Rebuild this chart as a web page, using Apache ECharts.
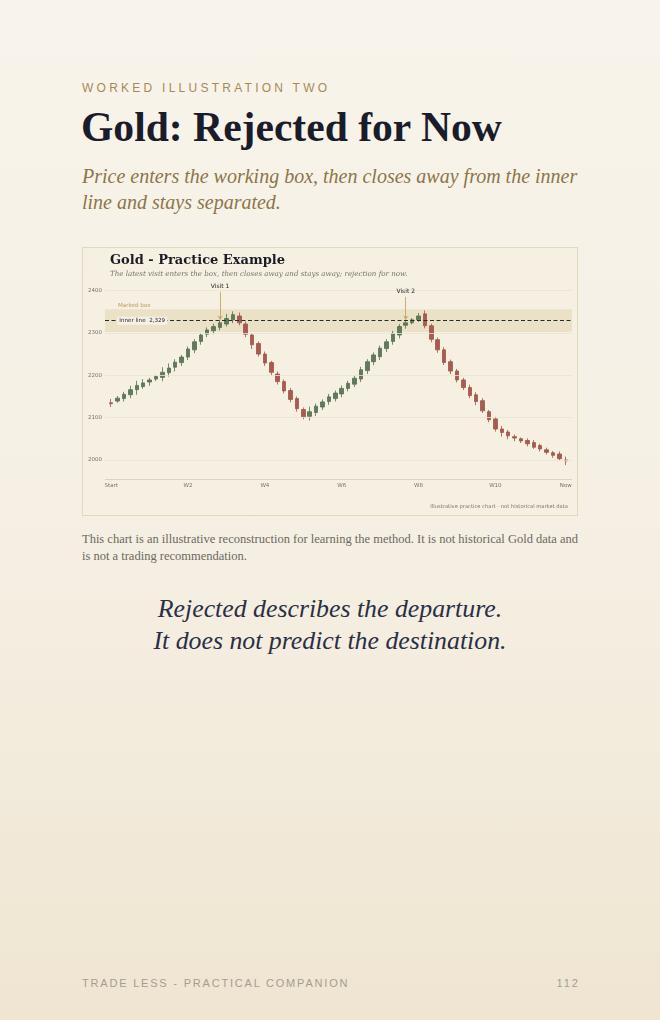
<!DOCTYPE html>
<html>
<head>
<meta charset="utf-8">
<script src="https://cdn.jsdelivr.net/npm/echarts@6/dist/echarts.min.js"></script>
<style>
  html, body { margin: 0; padding: 0; }
  body {
    width: 660px; height: 1020px; position: relative; overflow: hidden;
    background: linear-gradient(180deg, #f8f4eb 0%, #f5efe3 55%, #efe5d1 100%);
  }
  .kicker { position: absolute; left: 82px; top: 81px; font-family: "Liberation Sans", Arial, sans-serif;
    font-size: 12px; letter-spacing: 3.25px; color: #a58a55; white-space: nowrap; }
  .title { position: absolute; left: 81px; top: 101px; font-family: "Liberation Serif", "Times New Roman", serif;
    font-weight: bold; font-size: 41.6px; color: #1b1c2b; white-space: nowrap; line-height: 52px; }
  .sub { position: absolute; left: 82px; top: 163px; width: 500px; font-family: "Liberation Serif", serif;
    font-style: italic; font-size: 20px; line-height: 26px; color: #8c7548; }
  .panel { position: absolute; left: 82px; top: 247px; width: 496px; height: 269px; box-sizing: border-box;
    border: 1px solid #e2d8c2; background: #f6f0e3; }
  #chart { width: 494px; height: 267px; }
  .caption { position: absolute; left: 82px; top: 531px; width: 498px; font-family: "Liberation Serif", serif;
    font-size: 12.5px; line-height: 17px; color: #6c6761; }
  .quote { position: absolute; left: 0; width: 660px; top: 593px; text-align: center; font-family: "Liberation Serif", serif;
    font-style: italic; font-size: 25.8px; line-height: 32px; color: #2a2f45; }
  .foot { position: absolute; top: 977px; font-family: "Liberation Sans", Arial, sans-serif; font-size: 11px;
    letter-spacing: 1.8px; color: #a39d92; white-space: nowrap; }
</style>
</head>
<body>
<div class="kicker">WORKED ILLUSTRATION TWO</div>
<div class="title">Gold: Rejected for Now</div>
<div class="sub">Price enters the working box, then closes away from the inner line and stays separated.</div>
<div class="panel"><div id="chart"></div></div>
<div class="caption">This chart is an illustrative reconstruction for learning the method. It is not historical Gold data and is not a trading recommendation.</div>
<div class="quote">Rejected describes the departure.<br>It does not predict the destination.</div>
<div class="foot" style="left:82px;">TRADE LESS - PRACTICAL COMPANION</div>
<div class="foot" style="right:80px;letter-spacing:2px;">112</div>
<script>
// ---- data ----
const opens  = [2135,2139,2145,2154,2166,2173,2184,2191,2195,2206,2219,2230,2243,2260,2280,2297,2305,2313,2321,2331,
                2340,2321,2295,2275,2250,2230,2203,2185,2164,2145,2119,2103,2112,2125,2138,2145,2156,2169,2179,2191,
                2211,2232,2244,2263,2280,2295,2318,2324,2331,2345,2317,2284,2260,2232,2210,2189,2171,2154,2140,2114,
                2097,2073,2066,2055,2050,2046,2041,2034,2024,2017,2014,2000];
const closes = [2133,2146,2155,2166,2176,2182,2189,2197,2207,2217,2231,2243,2262,2279,2295,2307,2315,2324,2334,2343,
                2324,2297,2272,2250,2229,2207,2185,2163,2143,2121,2102,2114,2127,2137,2149,2158,2169,2181,2193,2213,
                2232,2248,2264,2279,2299,2315,2324,2331,2340,2317,2285,2260,2230,2210,2189,2171,2152,2138,2116,2095,
                2073,2065,2057,2052,2045,2038,2030,2026,2018,2011,2003,1998];
const lows   = [2125,2135,2138,2146,2154,2168,2175,2186,2186,2197,2209,2222,2236,2252,2272,2290,2297,2306,2315,2323,
                2318,2290,2262,2244,2222,2200,2178,2157,2136,2114,2096,2093,2104,2118,2130,2138,2148,2162,2172,2184,
                2203,2224,2236,2255,2272,2287,2310,2320,2326,2311,2278,2253,2224,2203,2183,2165,2146,2129,2111,2089,
                2067,2055,2049,2044,2040,2032,2026,2020,2013,2005,1999,1988];
const highs  = [2144,2151,2161,2175,2187,2191,2194,2201,2219,2228,2238,2248,2268,2285,2300,2313,2322,2330,2345,2351,
                2348,2327,2299,2280,2256,2234,2209,2190,2170,2150,2124,2126,2133,2143,2156,2164,2176,2187,2199,2220,
                2238,2254,2270,2285,2305,2321,2330,2335,2347,2353,2322,2289,2266,2237,2215,2194,2178,2160,2146,2118,
                2102,2080,2071,2060,2053,2051,2047,2038,2029,2021,2020,2008];
const tickIndex = [0, 12, 24, 36, 48, 60, 71];
const tickText  = ['Start', 'W2', 'W4', 'W6', 'W8', 'W10', 'Now'];
const yTicks    = [2000, 2100, 2200, 2300, 2400];
const yMin = 1955, yMax = 2425;
const innerLine = 2329;
const boxLow = 2302, boxHigh = 2356;
const visits = [
  { name: 'Visit 1', idx: 17, from: 2397, to: 2331 },
  { name: 'Visit 2', idx: 46, from: 2385, to: 2331 }
];
// ---- build ----
const cats = opens.map((_, i) => 'd' + i);
const candles = opens.map((o, i) => [o, closes[i], lows[i], highs[i]]);
const tickMap = {};
tickIndex.forEach((t, i) => { tickMap[t] = tickText[i]; });
const X0 = 22, X1 = 489; // extent of the plot frame lines (container px)

const chart = echarts.init(document.getElementById('chart'), null, { renderer: 'canvas' });
const sans = 'DejaVu Sans';
chart.setOption({
  animation: false,
  title: {
    text: 'Gold - Practice Example',
    subtext: 'The latest visit enters the box, then closes away and stays away; rejection for now.',
    left: 27, top: 6, itemGap: 4, padding: 0,
    textStyle: { fontFamily: 'DejaVu Serif', fontWeight: 'bold', fontSize: 13, color: '#1b1b26' },
    subtextStyle: { fontFamily: 'DejaVu Serif', fontStyle: 'italic', fontSize: 7.1, color: '#77736c' }
  },
  grid: { left: 25, right: 8, top: 32, bottom: 36 },
  xAxis: {
    type: 'category', data: cats, boundaryGap: true,
    axisTick: { show: false },
    axisLine: { show: false },
    axisLabel: {
      interval: (i) => tickMap[i] !== undefined,
      formatter: (v, i) => tickMap[i] || '',
      fontFamily: sans, fontSize: 5.5, color: '#777169', margin: 4, hideOverlap: false
    },
    splitLine: { show: false }
  },
  yAxis: {
    type: 'value', min: yMin, max: yMax, scale: true,
    axisLine: { show: false }, axisTick: { show: false },
    splitLine: { show: false },
    axisLabel: { fontFamily: sans, fontSize: 5.5, color: '#777169', margin: 6, showMinLabel: false, showMaxLabel: false,
      formatter: (v) => (yTicks.indexOf(v) >= 0 ? String(v) : '') }
  },
  graphic: [{
    type: 'text', right: 9, top: 256,
    style: { text: 'Illustrative practice chart - not historical market data', fontFamily: sans, fontSize: 5.2, fill: '#7a756d' }
  }],
  series: [
    {
      type: 'line', data: [], z: 1, silent: true,
      markLine: {
        silent: true, symbol: 'none', animation: false,
        label: { show: false },
        data: yTicks.map(v => [
          { yAxis: v, x: X0, lineStyle: { color: '#ebe3d3', width: 0.8, type: 'solid' } },
          { yAxis: v, x: X1 }
        ]).concat([[
          { yAxis: yMin, x: X0, lineStyle: { color: '#dcd3c1', width: 1, type: 'solid' } },
          { yAxis: yMin, x: X1 }
        ]])
      },
      markArea: {
        silent: true,
        itemStyle: { color: 'rgba(218,200,156,0.38)' },
        label: { show: true, position: [13, -7], formatter: 'Marked box', fontFamily: sans, fontSize: 5.6, color: '#b99a5c' },
        data: [[{ yAxis: boxLow, x: X0 }, { yAxis: boxHigh, x: X1 }]]
      }
    },
    {
      type: 'candlestick', z: 3, data: candles, barWidth: 4,
      itemStyle: { color: '#5f7a5d', color0: '#a85c51', borderColor: '#55704f', borderColor0: '#9e5448', borderWidth: 0.8 },
      markLine: {
        silent: true, animation: false,
        data: [
          [{ yAxis: innerLine, x: X0, symbol: 'none', lineStyle: { color: '#2a2a2a', type: [4, 2.5], width: 1.1 }, label: { show: false } },
           { yAxis: innerLine, x: X1, symbol: 'none' }]
        ].concat(visits.map(v => [
          { coord: [cats[v.idx], v.from], symbol: 'none',
            lineStyle: { color: '#c9a45c', width: 0.9, type: 'solid' },
            label: { show: true, position: 'start', formatter: v.name, fontFamily: sans, fontSize: 6, color: '#222', distance: 2 } },
          { coord: [cats[v.idx], v.to], symbol: 'arrow', symbolSize: [4, 4] }
        ]))
      },
      markPoint: {
        silent: true, symbol: 'rect', symbolSize: 0,
        data: [{
          coord: [cats[5], innerLine],
          label: { show: true, position: 'inside', formatter: 'Inner line  2,329', fontFamily: sans, fontSize: 5.6, color: '#222',
            backgroundColor: '#f6f1e6', padding: [1, 2], offset: [-1, 0] }
        }]
      }
    }
  ]
});
</script>
</body>
</html>
